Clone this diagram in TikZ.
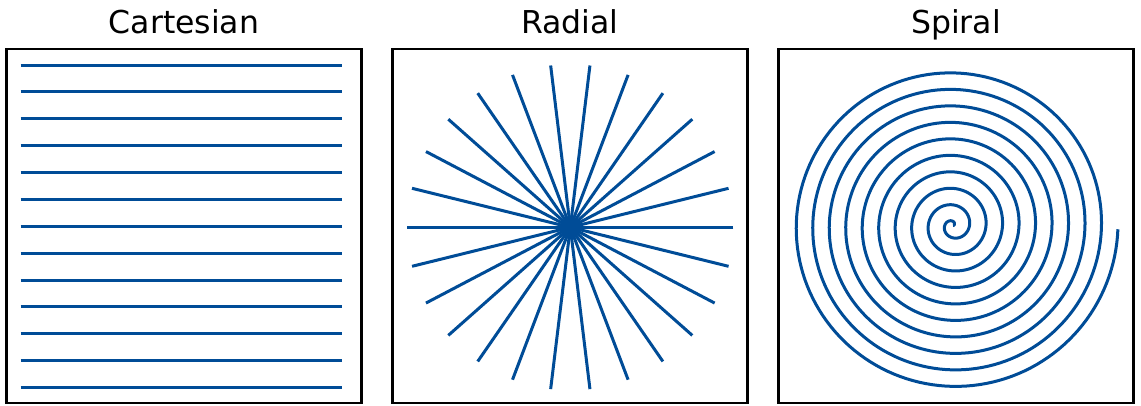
\documentclass[tikz,border=0pt]{standalone}
\usepackage{fontspec}
\setmainfont{DejaVu Sans}
\usetikzlibrary{calc}
\definecolor{lineblue}{RGB}{0,76,151}
\begin{document}
\begin{tikzpicture}[x=1pt,y=-1pt,
  frame/.style={draw=black,line width=2.2pt},
  curve/.style={draw=lineblue,line width=3pt},
  title/.style={anchor=base,font=\fontsize{31.5}{38}\selectfont,inner sep=0pt}]
\useasboundingbox (0,0) rectangle (1141,405);
% titles
\node[title] (t1) at (184,33) {Cartesian};
\node[title] (t2) at (570,33) {Radial};
\node[title] (t3) at (956,33) {Spiral};
% Cartesian
\foreach \i in {0,...,12}{
  \draw[curve] (20.7,{65+\i*26.875}) -- (341.7,{65+\i*26.875});
}
% Radial
\coordinate (rc) at (570.3,227.3);
\foreach \k in {0,...,12}{
  \draw[curve] ($(rc)+({163*cos(\k*360/26)},{-163*sin(\k*360/26)})$) -- ($(rc)+({-163*cos(\k*360/26)},{163*sin(\k*360/26)})$);
}
% Spiral
\draw[curve,line join=round] plot[domain=0:62.8319,samples=1500,variable=\t]
  ({953+165*\t/62.8319*cos(\t r)},{225.5-165*\t/62.8319*sin(\t r)});
% frames
\draw[frame] (6.5,49) rectangle (361.5,403);
\draw[frame] (392.5,49) rectangle (747.5,403);
\draw[frame] (778.5,49) rectangle (1133.5,403);
\end{tikzpicture}
\end{document}
